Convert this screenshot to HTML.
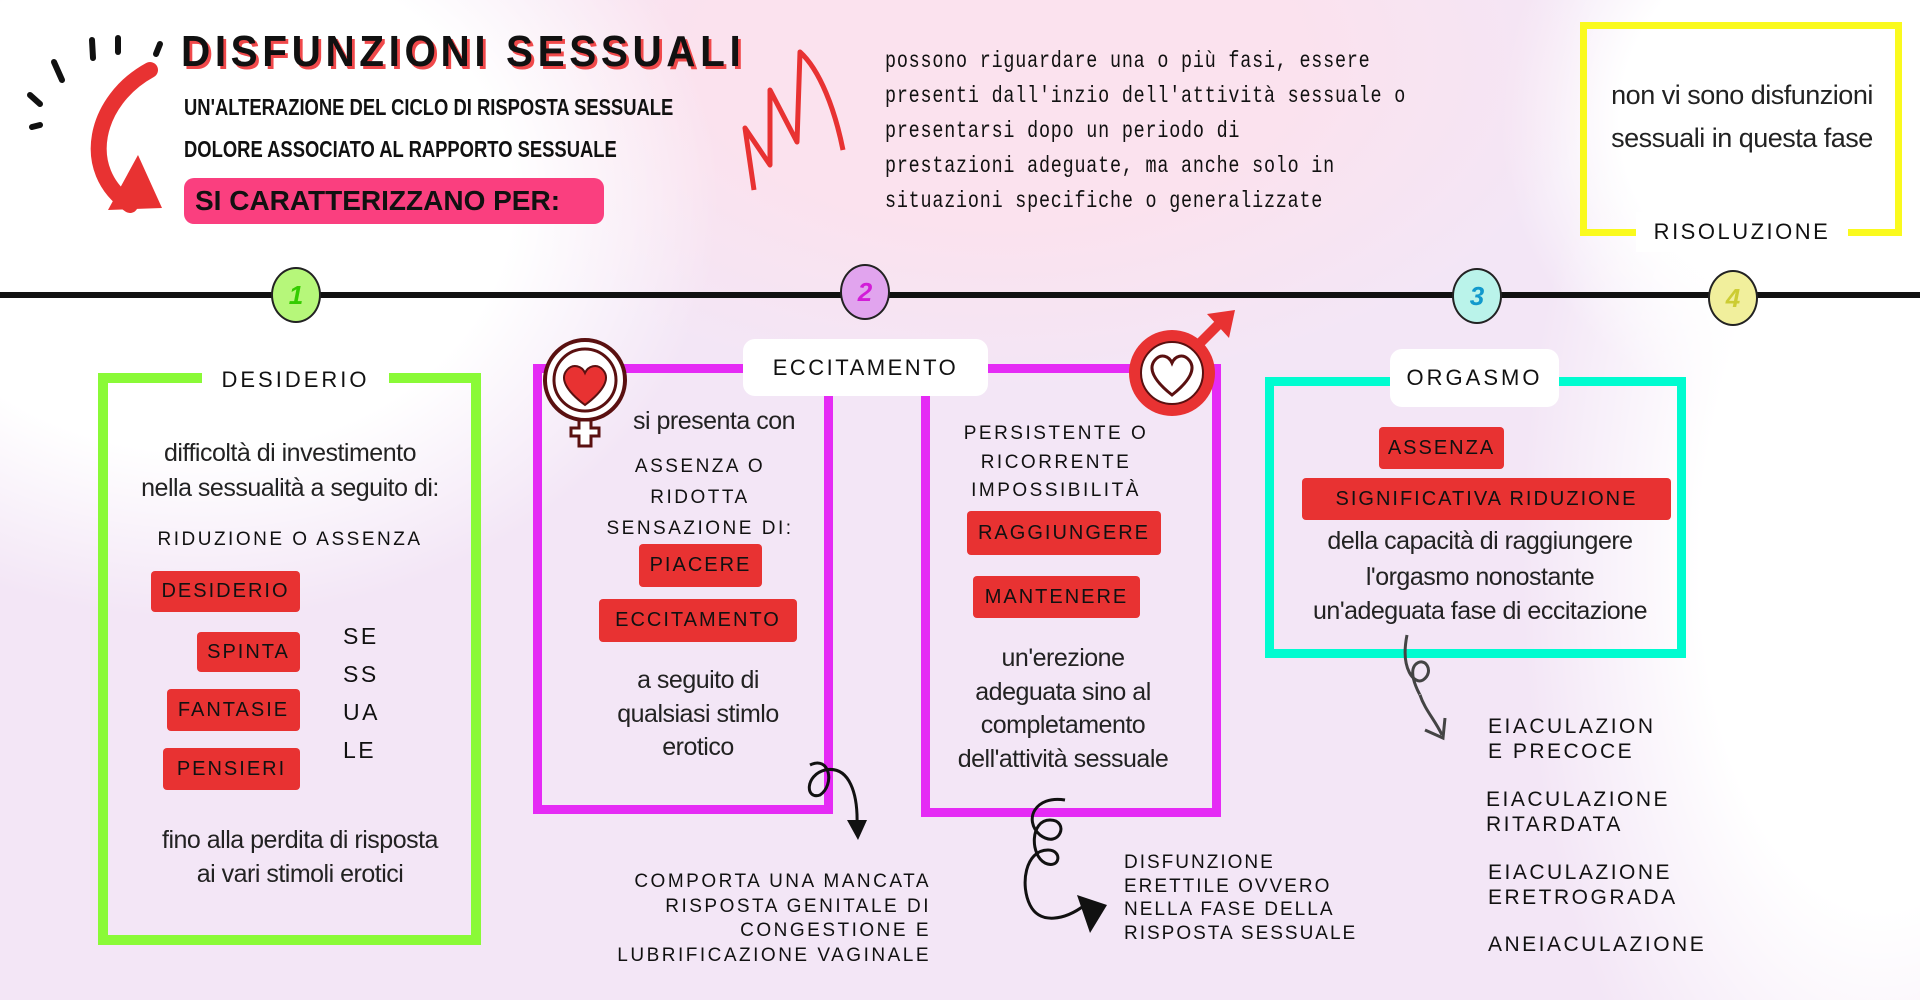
<!DOCTYPE html>
<html><head><meta charset="utf-8"><style>
*{margin:0;padding:0;box-sizing:border-box}
body{width:1920px;height:1000px;overflow:hidden;position:relative;font-family:"Liberation Sans",sans-serif;color:#111;
background:
radial-gradient(ellipse 520px 420px at 200px 200px,#ffffff 60%,rgba(255,255,255,0) 100%),
radial-gradient(ellipse 600px 330px at 1000px 60px,#fbe2ee 50%,rgba(251,226,238,0) 100%),
radial-gradient(ellipse 360px 700px at 1880px 560px,#ffffff 50%,rgba(255,255,255,0) 100%),
radial-gradient(ellipse 300px 300px at 1800px 120px,#ffffff 60%,rgba(255,255,255,0) 100%),
#f3e6f6;}
.a{position:absolute}
.c{text-align:center;transform:translateX(-50%);white-space:nowrap}
.cap{font-size:20px;letter-spacing:2.5px;line-height:1}
.tag{position:absolute;background:#e83232;border-radius:4px;color:#111;font-size:20px;letter-spacing:2px;display:flex;align-items:center;justify-content:center;white-space:nowrap}
.hand{font-family:"Liberation Sans Narrow","Liberation Sans",sans-serif;font-size:25px;color:#222;letter-spacing:-0.5px;line-height:1}
.lbl{position:absolute;background:#fff;border-radius:12px;display:flex;align-items:center;justify-content:center;font-size:22px;letter-spacing:3px;z-index:2}
.circ{position:absolute;width:50px;height:56px;border:2px solid #222;border-radius:50%;font-weight:bold;font-size:26px;font-style:italic;display:flex;align-items:center;justify-content:center}
</style></head><body>

<div class="a" style="left:181px;top:27px;font-size:44px;letter-spacing:5px;font-weight:bold;color:#111;text-shadow:3px 3px 0 #f0494b;white-space:nowrap;transform:scaleX(0.92);transform-origin:left">DISFUNZIONI SESSUALI</div>
<div class="a" style="left:184px;top:94px;font-size:23px;font-weight:bold;white-space:nowrap;transform:scaleX(0.8);transform-origin:left">UN'ALTERAZIONE DEL CICLO DI RISPOSTA SESSUALE</div>
<div class="a" style="left:184px;top:136px;font-size:23px;font-weight:bold;white-space:nowrap;transform:scaleX(0.8);transform-origin:left">DOLORE ASSOCIATO AL RAPPORTO SESSUALE</div>
<div class="a" style="left:184px;top:178px;width:420px;height:46px;background:#fa3f7f;border-radius:10px;font-size:28px;font-weight:bold;display:flex;align-items:center;padding-left:11px;white-space:nowrap">SI CARATTERIZZANO PER:</div>

<svg class="a" style="left:0;top:0" width="900" height="260">
<g stroke="#111" stroke-width="6" stroke-linecap="round">
<line x1="30" y1="95" x2="40" y2="104"/><line x1="32" y1="127" x2="40" y2="125"/>
<line x1="54" y1="62" x2="62" y2="80"/><line x1="92" y1="40" x2="93" y2="58"/>
<line x1="118" y1="38" x2="118" y2="52"/><line x1="160" y1="44" x2="156" y2="54"/>
</g>
<path d="M150 70 C95 100 78 170 130 205" stroke="#e83232" stroke-width="16" fill="none" stroke-linecap="round"/>
<path d="M108 210 L162 208 L138 155 Z" fill="#e83232"/>
<path d="M754 190 L745 128 L770 165 L770 90 L797 142 L800 52 C820 70 835 110 843 150" stroke="#e83232" stroke-width="5" fill="none" stroke-linejoin="round"/>
</svg>

<div class="a" style="left:885px;top:44px;font-size:23px;line-height:35px;letter-spacing:1px;font-family:'Liberation Mono',monospace;color:#111;white-space:nowrap;transform:scaleX(0.8);transform-origin:left">possono riguardare una o più fasi, essere<br>presenti dall'inzio dell'attività sessuale o<br>presentarsi dopo un periodo di<br>prestazioni adeguate, ma anche solo in<br>situazioni specifiche o generalizzate</div>

<div class="a" style="left:1580px;top:22px;width:322px;height:214px;border:7px solid #fafa1e"></div>
<div class="a hand c" style="left:1742px;top:82px;font-size:27px">non vi sono disfunzioni</div>
<div class="a hand c" style="left:1742px;top:125px;font-size:27px">sessuali in questa fase</div>
<div class="a" style="left:1636px;top:212px;width:212px;height:40px;background:#fff"></div>
<div class="a c cap" style="left:1742px;top:221px;font-size:22px">RISOLUZIONE</div>

<div class="a" style="left:0;top:292px;width:1920px;height:6px;background:#111"></div>
<div class="circ" style="left:271px;top:267px;background:#b6f77a;color:#3c0">1</div>
<div class="circ" style="left:840px;top:264px;background:#e1a4ee;color:#d21dd8">2</div>
<div class="circ" style="left:1452px;top:268px;background:#baf3ea;color:#19c">3</div>
<div class="circ" style="left:1708px;top:270px;background:#f1ef9c;color:#cc3">4</div>

<div class="a" style="left:98px;top:373px;width:383px;height:572px;border:10px solid #8afa37"></div>
<div class="lbl" style="left:202px;top:351px;width:187px;height:57px">DESIDERIO</div>
<div class="a hand c" style="left:290px;top:441px">difficoltà di investimento</div>
<div class="a hand c" style="left:290px;top:476px">nella sessualità a seguito di:</div>
<div class="a c cap" style="left:290px;top:530px;font-size:19px">RIDUZIONE O ASSENZA</div>
<div class="tag" style="left:151px;top:571px;width:149px;height:41px">DESIDERIO</div>
<div class="tag" style="left:197px;top:632px;width:103px;height:40px">SPINTA</div>
<div class="tag" style="left:167px;top:689px;width:133px;height:42px">FANTASIE</div>
<div class="tag" style="left:163px;top:748px;width:137px;height:42px">PENSIERI</div>
<div class="a cap" style="left:343px;top:617px;font-size:23px;line-height:38px;white-space:nowrap">SE<br>SS<br>UA<br>LE</div>
<div class="a hand c" style="left:300px;top:828px">fino alla perdita di risposta</div>
<div class="a hand c" style="left:300px;top:862px">ai vari stimoli erotici</div>

<div class="a" style="left:533px;top:364px;width:300px;height:450px;border:9px solid #e52bf5"></div>
<div class="a" style="left:921px;top:364px;width:300px;height:453px;border:9px solid #e52bf5"></div>
<div class="lbl" style="left:743px;top:339px;width:245px;height:57px;letter-spacing:2.5px;font-size:22px">ECCITAMENTO</div>
<svg class="a" style="left:535px;top:330px" width="100" height="118">
<circle cx="50" cy="50" r="40" fill="#fff" stroke="#5a1010" stroke-width="4"/>
<circle cx="50" cy="50" r="31" fill="none" stroke="#5a1010" stroke-width="3"/>
<path d="M50 75 C30 60 25 48 32 40 C38 33 47 36 50 43 C53 36 62 33 68 40 C75 48 70 60 50 75Z" fill="#e83232" stroke="#5a1010" stroke-width="2"/>
<path d="M44 90 h12 v8 h8 v8 h-8 v10 h-12 v-10 h-8 v-8 h8z" fill="#fff" stroke="#5a1010" stroke-width="3"/>
</svg>
<div class="a hand c" style="left:714px;top:409px">si presenta con</div>
<div class="a c cap" style="left:700px;top:451px;font-size:19px;line-height:31px">ASSENZA O<br>RIDOTTA<br>SENSAZIONE DI:</div>
<div class="tag" style="left:639px;top:544px;width:123px;height:43px">PIACERE</div>
<div class="tag" style="left:599px;top:599px;width:198px;height:43px">ECCITAMENTO</div>
<div class="a hand c" style="left:698px;top:668px">a seguito di</div>
<div class="a hand c" style="left:698px;top:702px">qualsiasi stimlo</div>
<div class="a hand c" style="left:698px;top:735px">erotico</div>
<svg class="a" style="left:800px;top:755px" width="80" height="90">
<path d="M10 10 C30 0 35 30 20 40 C5 45 5 20 25 15 C50 10 58 40 57 70" stroke="#111" stroke-width="3" fill="none"/>
<path d="M47 65 L58 85 L67 65Z" fill="#111"/>
</svg>
<div class="a cap" style="left:560px;top:870px;width:371px;text-align:right;font-size:19px;line-height:24.5px;white-space:nowrap">COMPORTA UNA MANCATA<br>RISPOSTA GENITALE DI<br>CONGESTIONE E<br>LUBRIFICAZIONE VAGINALE</div>

<svg class="a" style="left:1115px;top:308px;z-index:3" width="125" height="120">
<circle cx="57" cy="65" r="43" fill="#e83232"/>
<circle cx="57" cy="65" r="31" fill="#fff" stroke="#5a1010" stroke-width="2"/>
<path d="M57 87 C38 72 33 60 40 52 C46 45 54 48 57 55 C60 48 68 45 74 52 C81 60 76 72 57 87Z" fill="#fff" stroke="#5a1010" stroke-width="3"/>
<path d="M85 35 L108 12" stroke="#e83232" stroke-width="10"/>
<path d="M92 6 L120 2 L114 30Z" fill="#e83232"/>
</svg>
<div class="a c cap" style="left:1056px;top:420px;font-size:19px;line-height:28.5px">PERSISTENTE O<br>RICORRENTE<br>IMPOSSIBILITÀ</div>
<div class="tag" style="left:967px;top:511px;width:194px;height:44px">RAGGIUNGERE</div>
<div class="tag" style="left:973px;top:576px;width:167px;height:42px">MANTENERE</div>
<div class="a hand c" style="left:1063px;top:646px">un'erezione</div>
<div class="a hand c" style="left:1063px;top:680px">adeguata sino al</div>
<div class="a hand c" style="left:1063px;top:713px">completamento</div>
<div class="a hand c" style="left:1063px;top:747px">dell'attività sessuale</div>
<svg class="a" style="left:1015px;top:795px" width="100" height="145">
<path d="M50 5 C20 0 8 25 25 40 C45 55 55 25 35 25 C15 25 15 60 30 68 C45 75 48 55 33 55 C10 55 5 90 15 110 C25 130 50 125 70 110" stroke="#111" stroke-width="3" fill="none"/>
<path d="M62 100 L92 110 L75 138Z" fill="#111"/>
</svg>
<div class="a cap" style="left:1124px;top:851px;font-size:19px;line-height:23.5px;letter-spacing:2px;white-space:nowrap">DISFUNZIONE<br>ERETTILE OVVERO<br>NELLA FASE DELLA<br>RISPOSTA SESSUALE</div>

<div class="a" style="left:1265px;top:377px;width:421px;height:281px;border:9px solid #00fcd0"></div>
<div class="lbl" style="left:1390px;top:349px;width:169px;height:58px">ORGASMO</div>
<div class="tag" style="left:1379px;top:427px;width:125px;height:42px">ASSENZA</div>
<div class="tag" style="left:1302px;top:478px;width:369px;height:42px">SIGNIFICATIVA RIDUZIONE</div>
<div class="a hand c" style="left:1480px;top:529px">della capacità di raggiungere</div>
<div class="a hand c" style="left:1480px;top:565px">l'orgasmo nonostante</div>
<div class="a hand c" style="left:1480px;top:599px">un'adeguata fase di eccitazione</div>
<svg class="a" style="left:1395px;top:630px" width="90" height="115">
<path d="M12 5 C5 40 20 55 28 50 C40 42 30 25 20 35 C12 45 28 70 25 65 C30 80 40 90 47 105" stroke="#444" stroke-width="3" fill="none"/>
<path d="M30 100 L48 108 L50 88" stroke="#444" stroke-width="3" fill="none"/>
</svg>
<div class="a cap" style="left:1488px;top:714px;font-size:21px;line-height:25px;white-space:nowrap">EIACULAZION<br>E PRECOCE</div>
<div class="a cap" style="left:1486px;top:787px;font-size:21px;line-height:25px;white-space:nowrap">EIACULAZIONE<br>RITARDATA</div>
<div class="a cap" style="left:1488px;top:860px;font-size:21px;line-height:25px;white-space:nowrap">EIACULAZIONE<br>ERETROGRADA</div>
<div class="a cap" style="left:1488px;top:934px;font-size:21px;white-space:nowrap">ANEIACULAZIONE</div>

</body></html>
